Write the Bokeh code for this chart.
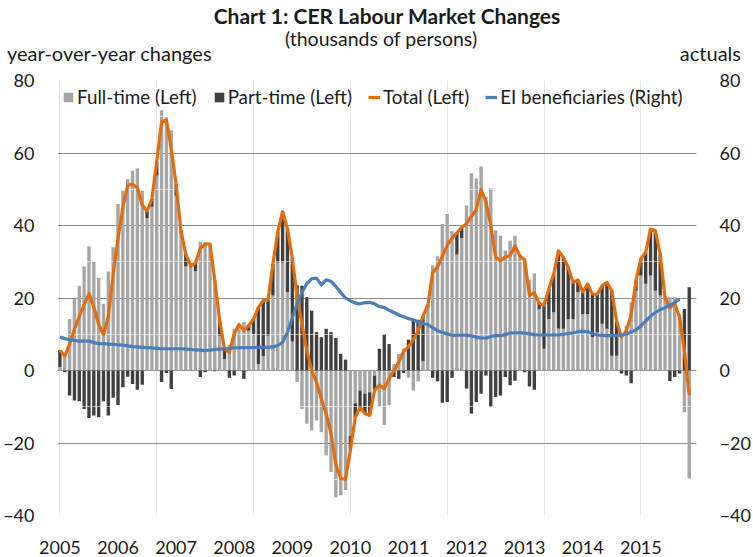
from bokeh.plotting import figure
from bokeh.layouts import column
from bokeh.models import (ColumnDataSource, Range1d, LinearAxis, FixedTicker,
                          Legend, LegendItem, Grid, Div)
from bokeh.embed import file_html
from bokeh.resources import INLINE

# ---------------- data (monthly, Jan 2005 .. Nov 2015) ----------------
title = "Chart 1: CER Labour Market Changes"
subtitle = "(thousands of persons)"
left_axis_title = "year-over-year changes"
right_axis_title = "actuals"

years = ["2005", "2006", "2007", "2008", "2009", "2010",
         "2011", "2012", "2013", "2014", "2015"]

full_time = [
    1.0, 4.5, 14.2, 19.7, 23.4, 28.7, 34.3, 30.0, 25.6, 18.4, 27.3, 34.0,
    45.9, 49.6, 52.8, 55.1, 55.7, 49.6, 42.0, 45.2, 53.7, 71.8, 69.8, 66.3,
    48.2, 38.0, 28.7, 28.4, 27.4, 35.5, 35.4, 34.9, 25.0, 9.6, 3.2, 7.0,
    11.5, 12.7, 13.3, 11.0, 10.1, 1.8, 4.0, 9.6, 20.7, 29.8, 29.8, 21.6,
    8.0, -3.2, -10.6, -14.7, -16.5, -13.8, -17.0, -23.4, -28.0, -35.0, -34.4, -33.0,
    -18.0, -9.0, -5.5, -6.4, -6.0, -1.4, -10.0, -15.0, -9.6, 1.8, 4.6, 6.0,
    -2.0, -5.5, -3.0, 2.5, 17.4, 29.0, 31.5, 40.4, 43.2, 38.5, 32.0, 36.5,
    45.5, 54.4, 53.0, 56.3, 47.9, 50.2, 38.6, 37.2, 33.1, 35.8, 37.2, 31.7,
    31.0, 25.1, 26.8, 17.0, 6.0, 14.2, 16.1, 11.5, 11.5, 14.2, 14.2, 21.6,
    15.6, 15.6, 9.2, 10.5, 12.9, 11.5, 4.1, 4.1, 10.0, 12.4, 18.8, 22.0,
    26.2, 23.9, 26.2, 22.0, 20.7, 20.2, 20.2, 20.2, 15.5, -11.5, -29.8,
]

part_time = [
    4.6, -0.5, -6.9, -8.3, -8.5, -10.6, -13.1, -12.4, -12.9, -8.5, -12.4, -7.5,
    -9.5, -4.6, -1.7, -3.7, -5.3, -3.9, 2.0, 2.1, 3.9, -3.2, -0.7, -5.1,
    3.2, 0.6, 3.4, 0.5, 2.2, -1.8, -0.5, 0.0, -0.2, 4.2, 2.8, -2.0,
    -1.4, 0.0, -2.3, 1.4, 4.1, 15.6, 15.3, 9.9, 8.7, 8.5, 14.0, 17.5,
    23.0, 23.5, 23.4, 20.2, 16.5, 10.6, 9.2, 11.5, 10.6, 9.0, 4.6, 3.0,
    -4.0, -4.0, -4.6, -5.5, -6.4, -4.1, 6.0, 10.0, 7.3, -1.8, -2.3, -0.7,
    8.5, 14.0, 14.0, 12.5, 0.6, -2.0, -3.0, -8.9, -8.7, -2.0, 6.0, 3.0,
    -5.0, -11.9, -8.7, -6.4, -1.4, -10.1, -7.3, -6.9, -1.8, -4.1, -2.8, 0.0,
    -0.5, -4.4, -5.3, 1.5, 12.0, 8.3, 10.5, 21.5, 19.7, 14.3, 10.1, 3.4,
    6.0, 8.3, 11.9, 10.5, 10.5, 12.8, 17.9, 9.5, -0.8, -1.4, -3.5, 2.8,
    4.6, 8.7, 12.8, 16.6, 11.4, 0.0, -2.9, -1.8, -0.8, 17.0, 23.0,
]

total = [
    5.6, 4.0, 7.3, 11.4, 14.9, 18.1, 21.2, 17.6, 12.7, 9.9, 14.9, 26.5,
    36.4, 45.0, 51.1, 51.4, 50.4, 45.7, 44.0, 47.3, 57.6, 68.6, 69.1, 61.2,
    51.4, 38.6, 32.1, 28.9, 29.6, 33.7, 34.9, 34.9, 24.8, 13.8, 6.0, 5.0,
    10.1, 12.7, 11.0, 12.4, 14.2, 17.4, 19.3, 19.5, 29.4, 38.3, 43.8, 39.1,
    31.0, 20.3, 12.8, 5.5, 0.0, -3.2, -7.8, -11.9, -17.4, -26.0, -29.8, -30.0,
    -22.0, -13.0, -10.1, -11.9, -12.4, -5.5, -4.0, -5.0, -2.3, 0.0, 2.3, 5.3,
    6.5, 8.5, 11.0, 15.0, 18.0, 27.0, 28.5, 31.5, 34.5, 36.5, 38.0, 39.5,
    40.5, 42.5, 44.3, 49.9, 46.5, 40.1, 31.3, 30.3, 31.3, 31.7, 34.4, 31.7,
    30.5, 20.7, 21.5, 18.5, 18.0, 22.5, 26.6, 33.0, 31.2, 28.5, 24.3, 25.0,
    21.6, 23.9, 21.1, 21.0, 23.4, 24.3, 22.0, 13.6, 9.2, 11.0, 15.3, 24.8,
    30.8, 32.6, 39.0, 38.6, 32.1, 20.2, 17.3, 18.4, 14.7, 5.5, -6.8,
]

ei_beneficiaries = [
    9.2, 8.8, 8.5, 8.3, 8.1, 8.1, 8.1, 7.7, 7.4, 7.4, 7.3, 7.2,
    7.1, 7.0, 6.8, 6.6, 6.5, 6.4, 6.3, 6.2, 6.1, 6.0, 6.0, 6.0,
    6.0, 6.0, 5.9, 5.8, 5.7, 5.6, 5.5, 5.6, 5.8, 5.9, 6.0, 6.1,
    6.2, 6.3, 6.3, 6.3, 6.3, 6.4, 6.4, 6.4, 6.5, 6.9, 7.8, 10.5,
    14.5, 18.4, 21.5, 24.0, 25.3, 25.5, 23.6, 25.0, 24.6, 23.2, 21.5, 20.0,
    19.2, 18.6, 18.4, 18.7, 18.8, 18.4, 17.6, 17.4, 16.6, 16.0, 15.3, 14.8,
    14.3, 14.0, 13.4, 13.0, 12.7, 11.8, 11.0, 10.5, 10.1, 9.7, 9.7, 9.8,
    9.7, 9.6, 9.2, 9.0, 8.9, 9.4, 9.6, 9.6, 9.9, 10.3, 10.4, 10.4,
    10.3, 10.1, 9.9, 9.8, 9.8, 9.8, 9.8, 9.8, 10.0, 10.2, 10.4, 10.7,
    10.8, 10.7, 10.2, 9.8, 9.7, 9.6, 9.6, 9.6, 9.8, 10.1, 10.6, 11.2,
    12.3, 13.6, 15.0, 16.0, 16.8, 17.3, 18.0, 18.8, 19.7,
]

y_ticks = [-40, -20, 0, 20, 40, 60, 80]

# ---------------- build sources (Excel-style stacking) ----------------
n = len(full_time)
months = list(range(n))
pt_bottom, pt_top = [], []
for f, q in zip(full_time, part_time):
    if (q >= 0 and f >= 0) or (q < 0 and f < 0):
        pt_bottom.append(f)
        pt_top.append(f + q)
    else:
        pt_bottom.append(0)
        pt_top.append(q)

src_ft = ColumnDataSource(dict(x=months, top=full_time, bottom=[0] * n))
src_pt = ColumnDataSource(dict(x=months, top=pt_top, bottom=pt_bottom))
src_tot = ColumnDataSource(dict(x=months, y=total))
src_ei = ColumnDataSource(dict(x=list(range(len(ei_beneficiaries))), y=ei_beneficiaries))

FONT = "Lato"
TXT = "#1a1a1a"
HEADER_H = 64

# ---------------- header (titles) ----------------
header_html = (
    f'<div style="position:relative;width:753px;height:{HEADER_H}px;'
    f'font-family:Lato, sans-serif;color:{TXT};">'
    f'<div style="position:absolute;left:0;top:5px;width:774px;text-align:center;'
    f'font-weight:bold;font-size:21px;line-height:21px;white-space:nowrap;">{title}</div>'
    f'<div style="position:absolute;left:0;top:29px;width:762px;text-align:center;'
    f'font-size:19.5px;line-height:20px;white-space:nowrap;">{subtitle}</div>'
    f'<div style="position:absolute;left:7px;top:43px;font-size:20px;line-height:20px;'
    f'white-space:nowrap;">{left_axis_title}</div>'
    f'<div style="position:absolute;right:12px;top:43px;font-size:20px;line-height:20px;'
    f'white-space:nowrap;">{right_axis_title}</div>'
    f'</div>'
)
header = Div(text=header_html, width=753, height=HEADER_H, margin=(0, 0, 0, 0))

# ---------------- figure ----------------
p = figure(width=753, height=557 - HEADER_H, output_backend="svg", toolbar_location=None,
           x_range=Range1d(-0.5, 131.5), y_range=Range1d(-40, 80),
           min_border_left=54, min_border_right=57, min_border_top=80 - HEADER_H,
           min_border_bottom=42, x_axis_location=None, y_axis_location=None,
           margin=(0, 0, 0, 0))
p.extra_y_ranges = {"right": Range1d(-40, 80)}
p.outline_line_color = None
p.background_fill_color = "white"
p.border_fill_color = "white"

yl = LinearAxis(ticker=FixedTicker(ticks=y_ticks))
yr = LinearAxis(ticker=FixedTicker(ticks=y_ticks), y_range_name="right")
xb = LinearAxis(ticker=FixedTicker(ticks=[12 * k for k in range(len(years))]))
xb.major_label_overrides = {12 * k: y for k, y in enumerate(years)}
for ax in (yl, yr, xb):
    ax.axis_line_color = None
    ax.major_tick_line_color = None
    ax.minor_tick_line_color = None
    ax.major_label_text_font = FONT
    ax.major_label_text_font_size = "18px"
    ax.major_label_text_color = TXT
yl.major_label_standoff = 17
yr.major_label_standoff = 17
xb.major_label_standoff = 19
p.add_layout(yl, "left")
p.add_layout(yr, "right")
p.add_layout(xb, "below")

p.add_layout(Grid(dimension=1, ticker=FixedTicker(ticks=y_ticks),
                  grid_line_color="#8c8c8c", grid_line_width=1), "center")

r_ft = p.vbar(x="x", top="top", bottom="bottom", width=0.7, source=src_ft,
              fill_color="#a6a6a6", line_color=None)
r_pt = p.vbar(x="x", top="top", bottom="bottom", width=0.7, source=src_pt,
              fill_color="#404040", line_color=None)
p.hspan(y=[-30, -10, 10, 30, 50, 70], line_color="white", line_alpha=0.55, line_width=1)
r_tot = p.line(x="x", y="y", source=src_tot, line_color="#e46c0a", line_width=3.2,
               line_join="round")
r_ei = p.line(x="x", y="y", source=src_ei, line_color="#4a7ebb", line_width=3.2,
              line_join="round", y_range_name="right")

legend = Legend(items=[
    LegendItem(label="Full-time (Left)", renderers=[r_ft]),
    LegendItem(label="Part-time (Left)", renderers=[r_pt]),
    LegendItem(label="Total (Left)", renderers=[r_tot]),
    LegendItem(label="EI beneficiaries (Right)", renderers=[r_ei]),
], orientation="horizontal", location=(5, 407), background_fill_alpha=0,
    border_line_color=None, label_text_font=FONT, label_text_font_size="18.8px",
    label_text_color=TXT, glyph_width=12, glyph_height=12, label_standoff=3,
    spacing=16, padding=0, margin=0)
p.add_layout(legend, "center")

layout = column(header, p, spacing=0, margin=(0, 0, 0, 0))
open("out.html", "w").write(file_html(layout, INLINE))
